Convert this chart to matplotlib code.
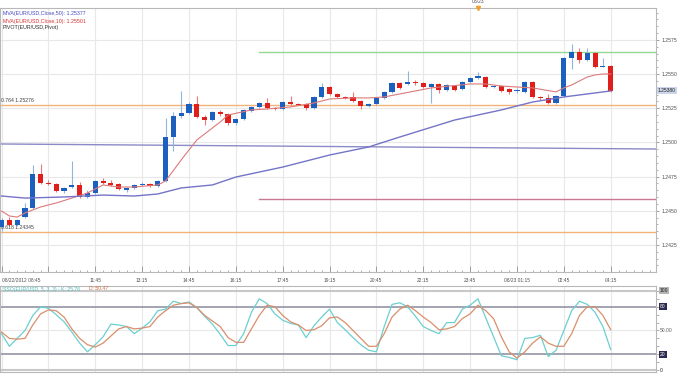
"""EUR/USD 15-min candlestick chart with MAs, pivots and slow stochastic."""
import numpy as np
import matplotlib
matplotlib.use("Agg")
import matplotlib.pyplot as plt
from matplotlib.transforms import blended_transform_factory

plt.rcParams['font.family'] = ['Liberation Sans', 'DejaVu Sans']

# 15-minute bars, 08/22/2012 08:45 -> 08/23 04:15
opens = [1.24382, 1.24433, 1.24396, 1.24455, 1.24521, 1.24770, 1.24704, 1.24696, 1.24645, 1.24674,
         1.24689, 1.24601, 1.24630, 1.24718, 1.24704, 1.24696, 1.24652, 1.24667, 1.24689, 1.24696,
         1.24682, 1.24718, 1.25040, 1.25194, 1.25216, 1.25282, 1.25187, 1.25165, 1.25223, 1.25209,
         1.25143, 1.25172, 1.25230, 1.25260, 1.25289, 1.25252, 1.25245, 1.25296, 1.25282, 1.25282,
         1.25252, 1.25333, 1.25406, 1.25355, 1.25333, 1.25333, 1.25304, 1.25267, 1.25282, 1.25326,
         1.25370, 1.25435, 1.25428, 1.25443, 1.25435, 1.25406, 1.25428, 1.25384, 1.25413, 1.25391,
         1.25443, 1.25472, 1.25479, 1.25406, 1.25413, 1.25391, 1.25377, 1.25370, 1.25443, 1.25333,
         1.25326, 1.25289, 1.25340, 1.25618, 1.25662, 1.25604, 1.25655, 1.25552, 1.25560]
highs = [1.24448, 1.24455, 1.24440, 1.24557, 1.24835, 1.24843, 1.24726, 1.24704, 1.24674, 1.24865,
         1.24711, 1.24652, 1.24726, 1.24740, 1.24726, 1.24704, 1.24674, 1.24696, 1.24711, 1.24704,
         1.24726, 1.25179, 1.25223, 1.25377, 1.25296, 1.25340, 1.25201, 1.25230, 1.25238, 1.25216,
         1.25179, 1.25245, 1.25267, 1.25296, 1.25326, 1.25260, 1.25304, 1.25340, 1.25289, 1.25289,
         1.25340, 1.25435, 1.25413, 1.25362, 1.25340, 1.25370, 1.25311, 1.25289, 1.25333, 1.25377,
         1.25443, 1.25443, 1.25523, 1.25457, 1.25443, 1.25435, 1.25435, 1.25428, 1.25421, 1.25450,
         1.25479, 1.25516, 1.25487, 1.25421, 1.25421, 1.25399, 1.25399, 1.25450, 1.25450, 1.25340,
         1.25355, 1.25348, 1.25626, 1.25721, 1.25691, 1.25691, 1.25662, 1.25618, 1.25567]
lows = [1.24352, 1.24389, 1.24389, 1.24448, 1.24513, 1.24696, 1.24689, 1.24638, 1.24630, 1.24667,
        1.24594, 1.24594, 1.24623, 1.24696, 1.24682, 1.24652, 1.24638, 1.24660, 1.24682, 1.24674,
        1.24674, 1.24711, 1.24938, 1.25179, 1.25209, 1.25179, 1.25128, 1.25157, 1.25194, 1.25128,
        1.25128, 1.25165, 1.25223, 1.25252, 1.25245, 1.25238, 1.25238, 1.25274, 1.25274, 1.25238,
        1.25245, 1.25326, 1.25348, 1.25326, 1.25318, 1.25296, 1.25245, 1.25260, 1.25274, 1.25318,
        1.25362, 1.25391, 1.25421, 1.25421, 1.25399, 1.25289, 1.25362, 1.25377, 1.25377, 1.25384,
        1.25435, 1.25465, 1.25399, 1.25399, 1.25370, 1.25355, 1.25362, 1.25362, 1.25326, 1.25311,
        1.25282, 1.25282, 1.25333, 1.25538, 1.25582, 1.25596, 1.25545, 1.25552, 1.25370]
closes = [1.24433, 1.24396, 1.24433, 1.24521, 1.24770, 1.24704, 1.24696, 1.24645, 1.24667, 1.24689,
          1.24601, 1.24630, 1.24718, 1.24704, 1.24689, 1.24660, 1.24667, 1.24689, 1.24696, 1.24682,
          1.24718, 1.25040, 1.25194, 1.25216, 1.25282, 1.25187, 1.25165, 1.25223, 1.25209, 1.25143,
          1.25172, 1.25238, 1.25260, 1.25289, 1.25252, 1.25245, 1.25296, 1.25282, 1.25274, 1.25252,
          1.25333, 1.25406, 1.25355, 1.25333, 1.25326, 1.25304, 1.25267, 1.25282, 1.25326, 1.25370,
          1.25435, 1.25399, 1.25443, 1.25435, 1.25406, 1.25428, 1.25384, 1.25421, 1.25384, 1.25443,
          1.25472, 1.25487, 1.25406, 1.25413, 1.25377, 1.25370, 1.25384, 1.25443, 1.25333, 1.25326,
          1.25289, 1.25340, 1.25618, 1.25662, 1.25604, 1.25655, 1.25552, 1.25560, 1.25380]

# moving averages (bar index, value)
ma10_bar = [0, 1, 2, 3, 5, 7, 9, 11, 13, 15, 17, 20, 21, 23, 25, 28, 29, 32, 34, 37,
            40, 42, 45, 47, 49, 51, 55, 60, 62, 64, 66, 68, 71, 72, 73, 74, 75, 76, 77, 78]
ma10_val = [1.24498, 1.24462, 1.24454, 1.24484, 1.24528, 1.24557, 1.24593, 1.24630, 1.24689, 1.24674,
            1.24674, 1.24689, 1.24718, 1.24872, 1.25018, 1.25150, 1.25201, 1.25238, 1.25245, 1.25260,
            1.25289, 1.25318, 1.25326, 1.25326, 1.25333, 1.25355, 1.25399, 1.25428, 1.25428, 1.25413,
            1.25406, 1.25399, 1.25370, 1.25399, 1.25421, 1.25450, 1.25479, 1.25494, 1.25501, 1.25501]
ma50_bar = [0, 3, 8, 13, 17, 20, 23, 27, 30, 36, 42, 47, 51, 58, 64, 68, 72, 78]
ma50_val = [1.24608, 1.24593, 1.24601, 1.24615, 1.24608, 1.24623, 1.24667, 1.24689, 1.24747, 1.24820,
            1.24908, 1.24967, 1.25040, 1.25164, 1.25238, 1.25296, 1.25333, 1.25377]

# slow stochastic (5,3,3)
stoch_k = [46, 30, 40, 50, 69, 80, 78, 70, 61, 48, 34, 23, 32, 42, 58, 57, 55, 46, 53, 61,
           75, 77, 87, 84, 86, 79, 68, 58, 45, 31, 31, 46, 73, 90, 84, 71, 63, 59, 57, 41,
           56, 67, 77, 60, 51, 41, 32, 25, 23, 55, 83, 85, 80, 68, 55, 50, 46, 60, 60, 77,
           82, 90, 66, 42, 18, 16, 13, 40, 41, 44, 17, 25, 50, 75, 87, 83, 73, 55, 26]
stoch_d = [48, 40, 39, 40, 57, 71, 76, 75, 67, 52, 40, 32, 29, 34, 43, 52, 55, 52, 53, 55,
           67, 75, 82, 84, 85, 79, 69, 62, 55, 41, 35, 35, 52, 69, 82, 80, 69, 61, 57, 50,
           51, 56, 66, 67, 60, 50, 40, 30, 30, 46, 67, 77, 82, 75, 67, 60, 51, 52, 55, 65,
           71, 82, 75, 65, 42, 23, 15, 23, 34, 42, 34, 30, 30, 46, 69, 80, 80, 69, 51]

time_labels = ["08/22/2012 08:45", "", "11:45", "13:15", "14:45", "16:15", "17:45", "19:15",
               "20:45", "22:15", "23:45", "08/23 01:15", "02:45", "04:15"]
price_ticks = [1.2425, 1.2450, 1.2475, 1.2500, 1.2525, 1.2550, 1.2575]
fib_levels = [1.25276, 1.24345]
fib_names = ["0.764", "0.618"]
pivot_r1 = 1.25662
pivot_s1 = 1.24587
pivot_p = [1.24989, 1.24952]
new_day_bar = 33      # 17:00 NY close
midnight_bar = 61     # 08/23 00:00
last_price = 1.25380

BLUE, RED = '#1d5fbe', '#de1f1c'
GRID = '#e8e8e8'
W, H = 680, 374


def box(l, t, r, b):
    return [l / W, 1 - b / H, (r - l) / W, (b - t) / H]


fig = plt.figure(figsize=(W / 100, H / 100), dpi=100)
ax = fig.add_axes(box(0, 8, 656, 272))
ax2 = fig.add_axes(box(0, 286, 656, 372))
xmin, xmax = -0.2, 83.8

# ---- price panel ----
bars = np.arange(len(closes))
o, h, l, c = map(np.array, (opens, highs, lows, closes))
up = c >= o
lo = np.minimum(o, c)
bh = np.maximum(np.abs(c - o), 0.00003)
ax.vlines(bars[up], l[up], h[up], color='#8fb6dc', lw=0.8, zorder=3)
ax.vlines(bars[~up], l[~up], h[~up], color='#e77a7a', lw=0.8, zorder=3)
ax.bar(bars[up], bh[up], bottom=lo[up], width=0.66, color=BLUE, lw=0, zorder=4)
ax.bar(bars[~up], bh[~up], bottom=lo[~up], width=0.66, color=RED, lw=0, zorder=4)

for lev, name in zip(fib_levels, fib_names):
    ax.axhline(lev, color='#f3b276', lw=1.0, zorder=2)
    ax.annotate(f"{name} {lev:.5f}", (xmin, lev), xytext=(1, 1.5), textcoords='offset points',
                fontsize=3.7, color='#404040', va='bottom', ha='left')
ax.plot([new_day_bar, xmax], [pivot_r1, pivot_r1], color='#93d993', lw=1.0, zorder=2)
ax.plot([new_day_bar, xmax], [pivot_s1, pivot_s1], color='#c97a90', lw=1.0, zorder=2)
ax.plot([xmin, xmax], pivot_p, color='#8a8ac6', lw=1.0, zorder=2)
ax.plot(ma10_bar, ma10_val, color='#dc7a7a', lw=0.8, zorder=5)
ax.plot(ma50_bar, ma50_val, color='#7474c8', lw=1.0, zorder=5)

ax.set_xlim(xmin, xmax)
ax.set_ylim(1.24052, 1.25984)
ax.yaxis.tick_right()
ax.set_yticks(price_ticks)
ax.set_yticklabels([f"{p:.4f}" for p in price_ticks])
ax.set_yticks(np.arange(1.2410, 1.2600, 0.0005), minor=True)
ax.set_xticks(np.arange(0, 79, 6))
ax.set_xticklabels(time_labels)
ax.set_xticks(np.arange(0, 84, 1), minor=True)
ax.get_xticklabels()[0].set_ha('left')
ax.tick_params(axis='x', which='major', direction='in', length=4, width=0.6, color='#909090',
               labelsize=3.5, labelcolor='#505050', pad=4)
ax.tick_params(axis='x', which='minor', direction='in', length=1.5, width=0.5, color='#909090')
ax.tick_params(axis='y', which='major', length=2.5, width=0.6, color='#909090',
               labelsize=3.7, labelcolor='#505050', pad=1.5)
ax.tick_params(axis='y', which='minor', length=1.5, width=0.5, color='#909090')
ax.grid(True, which='major', color=GRID, lw=0.8, zorder=0)
ax.set_axisbelow(True)
for s in ax.spines.values():
    s.set_color('#b8b8b8')
    s.set_linewidth(0.8)

ax.text(1.003, last_price, f"{last_price:.5f}", transform=blended_transform_factory(ax.transAxes, ax.transData),
        fontsize=3.6, color='#202020', va='center', ha='left',
        bbox=dict(boxstyle='square,pad=0.25', fc='#ccd6ea', ec='none'))
ax.plot([midnight_bar], [1.25984], marker='v', ms=3, color='#f0a030', clip_on=False, zorder=6)
ax.annotate("08/23", (midnight_bar, 1.25984), xytext=(0, 3.2), textcoords='offset points',
            fontsize=3.6, color='#505050', ha='center', va='bottom', annotation_clip=False)

fig.text(3 / W, 1 - 14 / H, "MVA(EUR/USD,Close,50): 1.25377", fontsize=3.8, color='#4848c0', va='center')
fig.text(3 / W, 1 - 21 / H, "MVA(EUR/USD,Close,10): 1.25501", fontsize=3.8, color='#d83030', va='center')
fig.text(3 / W, 1 - 27.5 / H, "PIVOT(EUR/USD,Pivot)", fontsize=3.8, color='#303030', va='center')

# ---- stochastic panel ----
ax2.plot(bars, stoch_k, color='#6ccfcf', lw=0.9, zorder=4)
ax2.plot(bars, stoch_d, color='#d98f6c', lw=0.9, zorder=4)
for lev in (80, 20):
    ax2.axhline(lev, color='#9c9cab', lw=1.3, zorder=2)
for lev in (100, 0):
    ax2.axhline(lev, color='#c8c8c8', lw=1.5, zorder=2)
ax2.axhline(50, color=GRID, lw=0.8, zorder=1)
ax2.set_xlim(xmin, xmax)
ax2.set_ylim(-2.5, 106.25)
ax2.set_xticks(np.arange(0, 79, 6))
ax2.set_xticklabels([])
ax2.tick_params(axis='x', length=0)
ax2.grid(True, axis='x', color=GRID, lw=0.8, zorder=0)
ax2.set_axisbelow(True)
ax2.yaxis.tick_right()
ax2.set_yticks([])
ax2.set_yticks(np.arange(0, 101, 10), minor=True)
ax2.tick_params(axis='y', which='minor', length=2, width=0.5, color='#909090')
for s in ax2.spines.values():
    s.set_color('#b8b8b8')
    s.set_linewidth(0.8)

tr = blended_transform_factory(ax2.transAxes, ax2.transData)
label_style = {100: ('100', '#202020', '#b4b4b4'), 80: ('80', 'white', '#2c2c52'),
               50: ('50.00', '#606060', None), 20: ('20', 'white', '#2c2c52'), 0: ('0', '#202020', None)}
for v, (txt, tc, fc) in label_style.items():
    bb = dict(boxstyle='square,pad=0.2', fc=fc, ec='none') if fc else None
    ax2.text(1.006, v, txt, transform=tr, fontsize=3.6, color=tc, va='center', ha='left', bbox=bb)

ax2.text(0.004, 1 - 3 / 86, "SSO(EUR/USD, 5, 3, 3) - K: 25.76", transform=ax2.transAxes,
         fontsize=3.7, color='#4cbcbc', va='center', ha='left')
ax2.text(89 / 656, 1 - 3 / 86, "D: 50.47", transform=ax2.transAxes,
         fontsize=3.7, color='#d0703c', va='center', ha='left')

fig.savefig("out.png", dpi=100)
